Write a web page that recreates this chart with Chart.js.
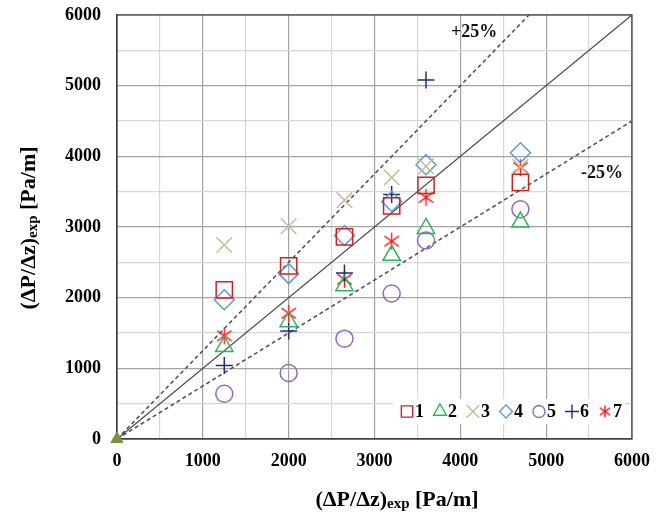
<!DOCTYPE html>
<html>
<head>
<meta charset="utf-8">
<script src="https://cdn.jsdelivr.net/npm/chart.js@4.4.1/dist/chart.umd.min.js"></script>
<style>
  html, body { margin: 0; padding: 0; background: #fff; }
  #wrap { width: 664px; height: 513px; }
</style>
</head>
<body>
<div id="wrap"><canvas id="chart"></canvas></div>
<script>
// measured values (Pa/m)
var xVals = [1250, 2000, 2650, 3200, 3600, 4700];
var s1 = [2110, 2450, 2860, 3300, 3590, 3630];
var s2 = [1310, 1660, 2170, 2600, 2980, 3070];
var s3 = [2745, 3010, 3380, 3700, 3860, 3850];
var s4 = [1970, 2340, 2880, 3360, 3880, 4050];
var s5 = [640, 935, 1420, 2060, 2810, 3250];
var s6 = [1040, 1530, 2350, 3460, 5080, null];
var s7 = [1460, 1780, 2260, 2800, 3420, 3840];
var seriesNames = ["1", "2", "3", "4", "5", "6", "7"];

// reference lines: y = x, +25%, -25%
var lineX = [0, 6000];
var lineExact = [0, 6000];
var linePlusX = [0, 4800];
var linePlus = [0, 6000];
var lineMinus = [0, 4500];

var axisTicks = [0, 1000, 2000, 3000, 4000, 5000, 6000];

var serif = "'Liberation Serif', 'Times New Roman', serif";

function pts(xs, ys) {
    var out = [];
    for (let i = 0; i < xs.length; i++) {
        if (ys[i] !== null) out.push({x: xs[i], y: ys[i]});
    }
    return out;
}

function makeStar(size, color) {
    var c = document.createElement('canvas');
    c.width = size; c.height = size;
    var g = c.getContext('2d');
    var m = size / 2, h = size / 2 - 1;
    g.strokeStyle = color;
    g.lineWidth = 1.4;
    g.beginPath();
    g.moveTo(m, m - h); g.lineTo(m, m + h);
    g.moveTo(m - h * 0.85, m - h * 0.6); g.lineTo(m + h * 0.85, m + h * 0.6);
    g.moveTo(m + h * 0.85, m - h * 0.6); g.lineTo(m - h * 0.85, m + h * 0.6);
    g.stroke();
    return c;
}

var starBig = makeStar(19, '#FF1A1A');
var starSmall = makeStar(14, '#FF1A1A');

function series(label, ys, style, color, radius, extra) {
    var ds = {
        label: label,
        data: pts(xVals, ys),
        pointStyle: style,
        pointRadius: radius,
        pointHoverRadius: radius,
        pointBorderColor: color,
        pointBackgroundColor: 'rgba(0,0,0,0)',
        pointBorderWidth: 1.5,
        showLine: false,
        clip: false,
        order: 1,
        legendStyle: style,
        legendColor: color
    };
    if (extra) Object.assign(ds, extra);
    return ds;
}

var datasets = [
    series(seriesNames[0], s1, 'rect', '#CC2222', 11.5, {legendRadius: 8}),
    series(seriesNames[1], s2, 'triangle', '#2DB35F', 10, {legendRadius: 7.5}),
    series(seriesNames[2], s3, 'crossRot', '#C4BC96', 11, {legendRadius: 9}),
    series(seriesNames[3], s4, 'rectRot', '#5B9BD5', 10, {legendRadius: 6.5}),
    series(seriesNames[4], s5, 'circle', '#8E6BBF', 8.5, {legendRadius: 6}),
    series(seriesNames[5], s6, 'cross', '#1F2F6E', 8.5, {legendRadius: 7}),
    series(seriesNames[6], s7, starBig, '#FF1A1A', 9, {legendRadius: 7, legendStyle: starSmall}),
    {
        label: 'origin', data: [{x: 0, y: 0}], pointStyle: 'triangle', pointRadius: 7,
        pointBackgroundColor: '#77933C', pointBorderColor: '#77933C', showLine: false,
        clip: false, order: 2, noLegend: true
    },
    {
        label: 'y=x', data: pts(lineX, lineExact), showLine: true, pointRadius: 0,
        borderColor: '#4A4A4A', borderWidth: 1.3, order: 10, noLegend: true
    },
    {
        label: '+25%', data: pts(linePlusX, linePlus), showLine: true, pointRadius: 0,
        borderColor: '#555', borderWidth: 1.6, borderDash: [4, 3], order: 10, noLegend: true
    },
    {
        label: '-25%', data: pts(lineX, lineMinus), showLine: true, pointRadius: 0,
        borderColor: '#555', borderWidth: 1.6, borderDash: [4, 3], order: 10, noLegend: true
    }
];

function gridColor(ctx) {
    if (!ctx.tick) return '#d4d4d4';
    return axisTicks.indexOf(ctx.tick.value) >= 0 ? '#A3A3A3' : '#D6D6D6';
}

// frame, titles, band labels and the legend inside the plot
var decor = {
    id: 'decor',
    beforeDatasetsDraw: function(chart) {
        var a = chart.chartArea, ctx = chart.ctx;
        ctx.save();
        ctx.strokeStyle = '#404040';
        ctx.lineWidth = 1.2;
        ctx.strokeRect(a.left, a.top, a.right - a.left, a.bottom - a.top);
        ctx.restore();
    },
    afterDraw: function(chart) {
        var ctx = chart.ctx;
        var xs = chart.scales.x, ys = chart.scales.y;
        ctx.save();

        // band labels
        ctx.fillStyle = '#111';
        ctx.font = 'bold 18px ' + serif;
        ctx.textAlign = 'center';
        ctx.textBaseline = 'middle';
        ctx.fillText('+25%', xs.getPixelForValue(4160), ys.getPixelForValue(5760));
        ctx.fillText('-25%', xs.getPixelForValue(5650), ys.getPixelForValue(3765));

        // axis titles
        drawTitle(ctx, 397, 499, 0);
        drawTitle(ctx, 28, 228, -Math.PI / 2);

        // legend
        var lx = 393, ly = 399, lw = 232, lh = 25;
        ctx.fillStyle = '#fff';
        ctx.fillRect(lx, ly, lw, lh);
        var cy = ly + lh / 2;
        var x = 407;
        ctx.font = 'bold 18px ' + serif;
        ctx.textAlign = 'left';
        chart.data.datasets.forEach(function(ds) {
            if (ds.noLegend) return;
            ctx.strokeStyle = ds.legendColor;
            ctx.fillStyle = 'rgba(0,0,0,0)';
            ctx.lineWidth = 1.4;
            Chart.helpers.drawPoint(ctx, {pointStyle: ds.legendStyle, radius: ds.legendRadius, borderWidth: 1.4, rotation: 0}, x, cy);
            ctx.fillStyle = '#000';
            ctx.fillText(ds.label, x + 8, cy + 1);
            x += 33;
        });
        ctx.restore();
    }
};

function drawTitle(ctx, cx, cy, rot) {
    var big = 'bold 22px ' + serif, small = 'bold 15px ' + serif;
    var p1 = '(\u0394P/\u0394z)', p2 = 'exp', p3 = ' [Pa/m]';
    ctx.save();
    ctx.translate(cx, cy);
    ctx.rotate(rot);
    ctx.fillStyle = '#000';
    ctx.textBaseline = 'alphabetic';
    ctx.textAlign = 'left';
    ctx.font = big; var w1 = ctx.measureText(p1).width; var w3 = ctx.measureText(p3).width;
    ctx.font = small; var w2 = ctx.measureText(p2).width;
    var x0 = -(w1 + w2 + w3) / 2, base = 7;
    ctx.font = big; ctx.fillText(p1, x0, base);
    ctx.font = small; ctx.fillText(p2, x0 + w1, base + 2);
    ctx.font = big; ctx.fillText(p3, x0 + w1 + w2, base);
    ctx.restore();
}

var tickFont = {family: serif, size: 18, weight: 'bold'};

new Chart(document.getElementById('chart'), {
    type: 'scatter',
    data: {datasets: datasets},
    options: {
        responsive: true,
        maintainAspectRatio: false,
        animation: false,
        layout: {padding: {left: 0, top: 15, right: 32, bottom: 0}},
        plugins: {legend: {display: false}, tooltip: {enabled: false}},
        scales: {
            x: {
                type: 'linear', min: 0, max: 6000,
                afterFit: function(s) { s.height = 74; s.paddingLeft = 0; s.paddingRight = 0; },
                border: {display: true, color: '#404040', width: 1.2},
                grid: {color: gridColor, drawTicks: false, lineWidth: 1.2},
                ticks: {
                    stepSize: 500, padding: 12, color: '#000', font: tickFont, maxRotation: 0,
                    autoSkip: false,
                    callback: function(v) { return axisTicks.indexOf(v) >= 0 ? String(v) : ''; }
                }
            },
            y: {
                type: 'linear', min: 0, max: 6000,
                afterFit: function(s) { s.width = 117; s.paddingTop = 0; s.paddingBottom = 0; },
                border: {display: true, color: '#404040', width: 1.2},
                grid: {color: gridColor, drawTicks: false, lineWidth: 1.2},
                ticks: {
                    stepSize: 500, padding: 16, color: '#000', font: tickFont,
                    autoSkip: false,
                    callback: function(v) { return axisTicks.indexOf(v) >= 0 ? String(v) : ''; }
                }
            }
        }
    },
    plugins: [decor]
});
</script>
</body>
</html>
